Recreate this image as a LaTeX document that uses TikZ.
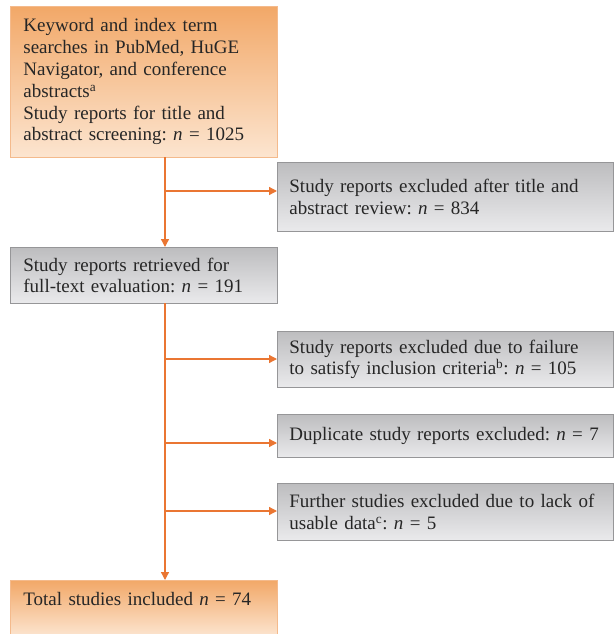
\documentclass[tikz,border=0pt]{standalone}
\usepackage{fontspec}
\setmainfont{Liberation Serif}
\usetikzlibrary{arrows.meta}
\definecolor{arr}{RGB}{234,118,50}
\definecolor{orTop}{RGB}{242,168,104}
\definecolor{orBot}{RGB}{252,229,208}
\definecolor{orLine}{RGB}{244,186,140}
\definecolor{grTop}{RGB}{189,189,191}
\definecolor{grBot}{RGB}{234,234,236}
\definecolor{grLine}{RGB}{150,150,152}
\definecolor{txt}{RGB}{38,38,38}
\frenchspacing
\tikzset{
  x=1pt, y=-1pt,
  basebox/.style={anchor=north west, rectangle, inner xsep=13pt, inner ysep=0pt,
    align=left, text=txt, font=\fontsize{19}{21.8}\selectfont\frenchspacing, line width=0.8pt},
  orbox/.style={basebox, top color=orTop, bottom color=orBot, draw=orLine},
  grbox/.style={basebox, top color=grTop, bottom color=grBot, draw=grLine},
  leftbox/.style={text width=241pt},
  rightbox/.style={inner xsep=12pt, text width=312pt},
  flow/.style={draw=arr, line width=1.3pt, -{Triangle[length=8pt,width=8pt]}}
}
\begin{document}
\begin{tikzpicture}
\useasboundingbox (0,0) rectangle (613,634);
\node[orbox, leftbox, minimum height=151pt] (search) at (10,6)
  {Keyword and index term\\searches in PubMed, HuGE\\Navigator, and conference\\abstracts\textsuperscript{a}\\Study reports for title and\\abstract screening: \textit{n} = 1025};
\node[grbox, rightbox, minimum height=69pt] (excl1) at (277,162)
  {Study reports excluded after title and\\abstract review: \textit{n} = 834};
\node[grbox, leftbox, minimum height=56pt] (retr) at (10,247)
  {Study reports retrieved for\\full-text evaluation: \textit{n} = 191};
\node[grbox, rightbox, minimum height=56pt] (excl2) at (277,331)
  {Study reports excluded due to failure\\to satisfy inclusion criteria\textsuperscript{b}: \textit{n} = 105};
\node[grbox, rightbox, minimum height=43pt] (dup) at (277,414)
  {Duplicate study reports excluded: \textit{n} = 7};
\node[grbox, rightbox, minimum height=57pt] (further) at (277,483)
  {Further studies excluded due to lack of\\usable data\textsuperscript{c}: \textit{n} = 5};
\node[orbox, leftbox, minimum height=56pt, text depth=18pt] (total) at (10,580)
  {Total studies included \textit{n} = 74};
\coordinate (top1) at (165,157);
\coordinate (b1) at (165,191);
\coordinate (top2) at (165,303);
\coordinate (b2) at (165,359);
\coordinate (b3) at (165,443);
\coordinate (b4) at (165,511);
\draw[flow] (top1) -- (top1 |- retr.north);
\draw[flow] (b1) -- (b1 -| excl1.west);
\draw[flow] (top2) -- (top2 |- total.north);
\draw[flow] (b2) -- (b2 -| excl2.west);
\draw[flow] (b3) -- (b3 -| dup.west);
\draw[flow] (b4) -- (b4 -| further.west);
\end{tikzpicture}
\end{document}
